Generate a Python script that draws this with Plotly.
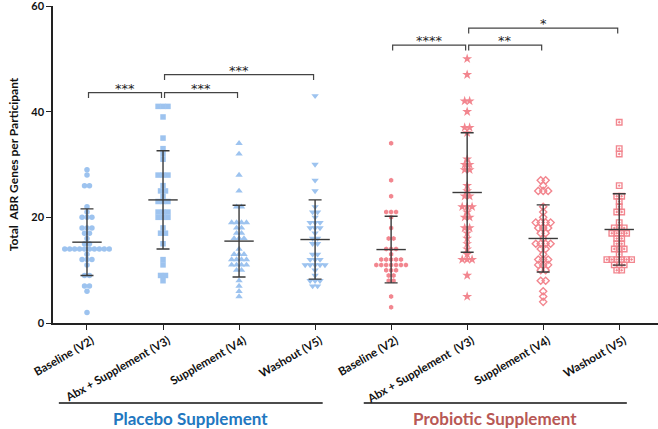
import plotly.graph_objects as go
import numpy as np

tick_labels = ["Baseline (V2)", "Abx + Supplement (V3)", "Supplement (V4)", "Washout (V5)",
               "Baseline (V2)", "Abx + Supplement  (V3)", "Supplement (V4)", "Washout (V5)"]

placebo_baseline = [29, 28, 26, 26, 22, 21, 20, 20, 20, 18, 18, 18, 17, 17, 16, 15, 15,
                    14, 14, 14, 14, 14, 14, 14, 14, 14, 14, 13, 12, 12, 12, 11, 9, 9, 7, 7, 6, 2]
placebo_abx = [41, 41, 41, 39, 35, 33, 32, 31, 28, 28, 28, 26, 25, 25, 24, 23, 23, 23,
               21, 21, 21, 20, 20, 20, 18, 17, 17, 15, 12, 11, 9, 9, 8]
placebo_supp = [34, 32, 28, 25, 22, 22, 19, 19, 19, 19, 18, 18, 17, 17, 16, 16, 16, 14,
                13, 13, 13, 12, 12, 12, 12, 11, 11, 11, 11, 10, 10, 8, 7, 6, 5]
placebo_wash = [43, 30, 27, 25, 22, 21, 21, 20, 19, 19, 19, 18, 18, 18, 17, 16, 16, 15, 15,
                13, 13, 12, 12, 12, 11, 11, 11, 11, 11, 10, 9, 8, 8, 8, 7, 7]
probiotic_baseline = [34, 27, 24, 21, 21, 21, 20, 18, 16, 16, 14, 14, 14, 13, 12, 12, 12, 12, 12,
                      11, 11, 11, 11, 11, 11, 11, 10, 10, 10, 9, 9, 8, 8, 5, 3]
probiotic_abx = [50, 47, 42, 42, 40, 37, 37, 36, 31, 30, 30, 29, 29, 26, 25, 24, 24, 22, 22, 22,
                 21, 20, 20, 18, 18, 17, 16, 15, 14, 13, 12, 12, 12, 9, 5]
probiotic_supp = [27, 27, 26, 25, 25, 25, 22, 21, 20, 19, 19, 19, 19, 18, 18, 18, 17, 17, 16,
                  15, 15, 15, 15, 14, 14, 13, 12, 12, 12, 11, 11, 11, 10, 10, 8, 8, 6, 5, 4]
probiotic_wash = [38, 33, 32, 26, 24, 24, 23, 22, 21, 21, 19, 18, 18, 18, 17, 17, 17, 17, 16, 16,
                  15, 15, 14, 14, 14, 13, 12, 12, 12, 12, 12, 12, 11, 11, 11, 10, 10]

means = [15.3, 23.3, 15.5, 15.8, 13.9, 24.7, 16.0, 17.7]
sds = [6.3, 9.3, 6.8, 7.5, 6.3, 11.3, 6.35, 6.75]

y_ticks = [0, 20, 40, 60]

# significance brackets: (group a, group b, level, label)
brackets = [(0, 1, 43.6, "***"), (1, 2, 43.6, "***"), (1, 3, 47.0, "***"),
            (4, 5, 52.6, "****"), (5, 6, 52.6, "**"), (5, 7, 55.8, "*")]

groups = [placebo_baseline, placebo_abx, placebo_supp, placebo_wash,
          probiotic_baseline, probiotic_abx, probiotic_supp, probiotic_wash]

BLUE = "#9DC3EF"
RED = "#F2868F"
colors = [BLUE] * 4 + [RED] * 4
symbols = ["circle", "square", "triangle-up", "triangle-down",
           "hexagon", "star", "diamond-open", "square-open-dot"]
sizes = [5.5, 5.5, 6.5, 6.5, 5, 7.5, 5.5, 5.5]

fig = go.Figure()

SPACING = 0.065


def swarm_x(center, vals):
    vals = np.asarray(vals)
    xs = np.zeros(len(vals), dtype=float)
    for v in np.unique(vals):
        idx = np.where(vals == v)[0]
        k = len(idx)
        offs = (np.arange(k) - (k - 1) / 2.0) * SPACING
        xs[idx] = center + offs
    return xs


for i, vals in enumerate(groups):
    xs = swarm_x(i, vals)
    mk = dict(color=colors[i], size=sizes[i], symbol=symbols[i])
    if "open" in symbols[i]:
        mk["line"] = dict(color=colors[i], width=1.4)
    else:
        mk["line"] = dict(width=0)
    fig.add_trace(go.Scatter(x=xs, y=vals, mode="markers", marker=mk,
                             showlegend=False, hoverinfo="y"))

# mean +/- SD
EB = "#3a3a3a"
fig.add_trace(go.Scatter(
    x=list(range(8)), y=means, mode="markers",
    marker=dict(symbol="line-ew-open", size=21, color=EB, line=dict(color=EB, width=1.4)),
    error_y=dict(type="data", array=sds, visible=True, color=EB, thickness=1.4, width=6.5),
    showlegend=False, hoverinfo="skip"))

shapes = []
annotations = []
tick_h = 1.0
for a, b, lvl, lab in brackets:
    x0 = a + 0.02
    x1 = b - 0.02
    shapes.append(dict(type="path", xref="x", yref="y",
                       path=f"M {x0},{lvl - tick_h} L {x0},{lvl} L {x1},{lvl} L {x1},{lvl - tick_h}",
                       line=dict(color="#444", width=1.2)))
    annotations.append(dict(x=(a + b) / 2, y=lvl, xref="x", yref="y", text=lab,
                            showarrow=False, yanchor="bottom", yshift=-5,
                            font=dict(family="DejaVu Sans", size=13, color="#222")))

# group lines and labels below axis
group_spans = [(-0.37, 3.1, "Placebo Supplement", "#2277C0"),
               (3.64, 7.1, "Probiotic Supplement", "#B85855")]
for x0, x1, lab, col in group_spans:
    shapes.append(dict(type="line", xref="x", yref="paper", x0=x0, x1=x1, y0=-0.252, y1=-0.252,
                       line=dict(color="#111", width=1.5)))
    annotations.append(dict(x=(x0 + x1) / 2, y=-0.302, xref="x", yref="paper", text=lab,
                            showarrow=False, yanchor="middle",
                            font=dict(family="Lato", size=17, color=col, weight="bold")))

fig.update_layout(
    width=658, height=429,
    margin=dict(l=53, r=0, t=6, b=106, autoexpand=False),
    paper_bgcolor="white", plot_bgcolor="white",
    shapes=shapes, annotations=annotations,
    font=dict(family="Lato", color="#111"),
    xaxis=dict(range=[-0.447, 7.51], tickvals=list(range(8)), ticktext=tick_labels,
               tickangle=-30, showgrid=False, zeroline=False, showline=True, automargin=False,
               linecolor="#222", linewidth=1.5, ticks="outside", ticklen=5, tickwidth=1.3,
               ticklabelshift=5,
               tickcolor="#222", tickfont=dict(family="Lato", size=11.5, color="#111", weight="bold")),
    yaxis=dict(range=[0, 60], tickvals=y_ticks, showgrid=False, zeroline=False,
               showline=True, linecolor="#222", linewidth=1.5, ticks="outside", ticklen=5,
               tickwidth=1.3, tickcolor="#222", automargin=False, ticklabeloverflow="allow",
               tickfont=dict(family="Lato", size=11, color="#111", weight="bold"),
               title=dict(text="Total  ABR Genes per Participant", standoff=10,
                          font=dict(family="Lato", size=12, color="#111", weight="bold"))),
)

fig.write_html("out.html", config={"displayModeBar": False},
               post_script="document.body.style.margin='0';document.body.style.overflow='hidden';")
